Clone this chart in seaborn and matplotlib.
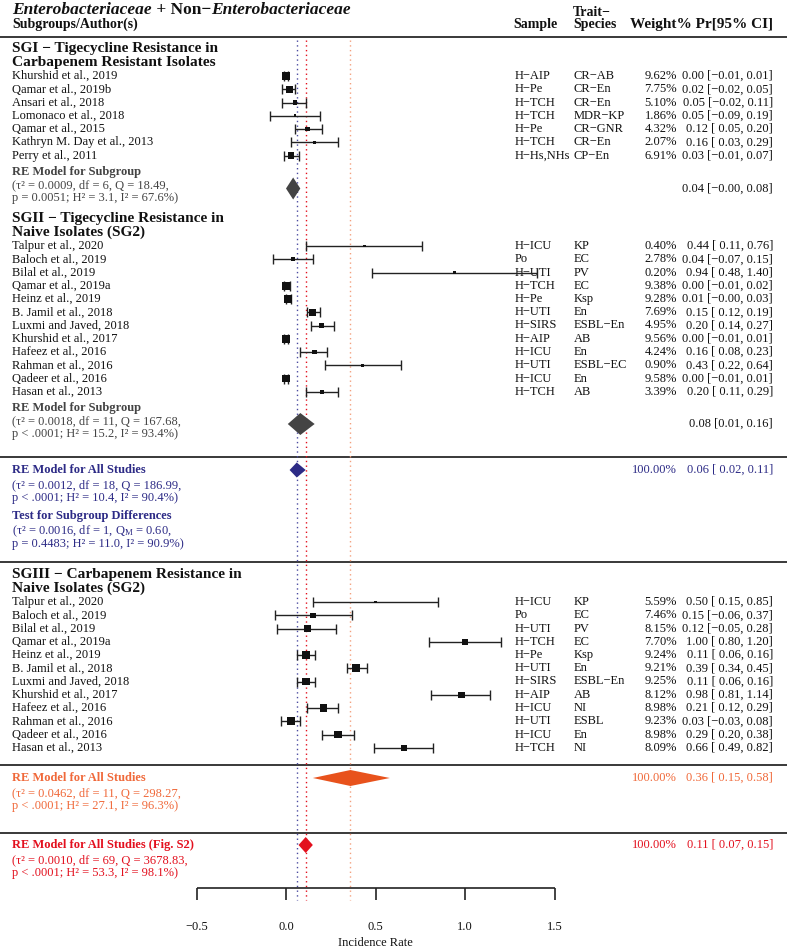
import numpy as np
import pandas as pd
import matplotlib
matplotlib.use('Agg')
import matplotlib.pyplot as plt
import seaborn as sns

# ---- data ----
sg1_authors = ["Khurshid et al., 2019", "Qamar et al., 2019b", "Ansari et al., 2018",
               "Lomonaco et al., 2018", "Qamar et al., 2015", "Kathryn M. Day et al., 2013",
               "Perry et al., 2011"]
sg1_sample = ["H−AIP", "H−Pe", "H−TCH", "H−TCH", "H−Pe", "H−TCH", "H−Hs,NHs"]
sg1_trait = ["CR−AB", "CR−En", "CR−En", "MDR−KP", "CR−GNR", "CR−En", "CP−En"]
sg1_weight = [9.62, 7.75, 5.10, 1.86, 4.32, 2.07, 6.91]
sg1_est = [0.00, 0.02, 0.05, 0.05, 0.12, 0.16, 0.03]
sg1_lo = [-0.01, -0.02, -0.02, -0.09, 0.05, 0.03, -0.01]
sg1_hi = [0.01, 0.05, 0.11, 0.19, 0.20, 0.29, 0.07]

sg2_authors = ["Talpur et al., 2020", "Baloch et al., 2019", "Bilal et al., 2019",
               "Qamar et al., 2019a", "Heinz et al., 2019", "B. Jamil et al., 2018",
               "Luxmi and Javed, 2018", "Khurshid et al., 2017", "Hafeez et al., 2016",
               "Rahman et al., 2016", "Qadeer et al., 2016", "Hasan et al., 2013"]
sg2_sample = ["H−ICU", "Po", "H−UTI", "H−TCH", "H−Pe", "H−UTI", "H−SIRS", "H−AIP",
              "H−ICU", "H−UTI", "H−ICU", "H−TCH"]
sg2_trait = ["KP", "EC", "PV", "EC", "Ksp", "En", "ESBL−En", "AB", "En", "ESBL−EC", "En", "AB"]
sg2_weight = [0.40, 2.78, 0.20, 9.38, 9.28, 7.69, 4.95, 9.56, 4.24, 0.90, 9.58, 3.39]
sg2_est = [0.44, 0.04, 0.94, 0.00, 0.01, 0.15, 0.20, 0.00, 0.16, 0.43, 0.00, 0.20]
sg2_lo = [0.11, -0.07, 0.48, -0.01, -0.00, 0.12, 0.14, -0.01, 0.08, 0.22, -0.01, 0.11]
sg2_hi = [0.76, 0.15, 1.40, 0.02, 0.03, 0.19, 0.27, 0.01, 0.23, 0.64, 0.01, 0.29]

sg3_authors = sg2_authors
sg3_sample = sg2_sample
sg3_trait = ["KP", "EC", "PV", "EC", "Ksp", "En", "ESBL−En", "AB", "NI", "ESBL", "En", "NI"]
sg3_weight = [5.59, 7.46, 8.15, 7.70, 9.24, 9.21, 9.25, 8.12, 8.98, 9.23, 8.98, 8.09]
sg3_est = [0.50, 0.15, 0.12, 1.00, 0.11, 0.39, 0.11, 0.98, 0.21, 0.03, 0.29, 0.66]
sg3_lo = [0.15, -0.06, -0.05, 0.80, 0.06, 0.34, 0.06, 0.81, 0.12, -0.03, 0.20, 0.49]
sg3_hi = [0.85, 0.37, 0.28, 1.20, 0.16, 0.45, 0.16, 1.14, 0.29, 0.08, 0.38, 0.82]

sg_titles = [["SGI − Tigecycline Resistance in", "Carbapenem Resistant Isolates"],
             ["SGII − Tigecycline Resistance in", "Naive Isolates (SG2)"],
             ["SGIII − Carbapenem Resistance in", "Naive Isolates (SG2)"]]

# pooled estimates: est, lo, hi
sum_sg1 = (0.04, -0.00, 0.08)
sum_sg2 = (0.08, 0.01, 0.16)
sum_all_tig = (0.06, 0.02, 0.11)
sum_all_carb = (0.36, 0.15, 0.58)
sum_all_s2 = (0.11, 0.07, 0.15)

stats_sg1 = ["(τ² = 0.0009, df = 6, Q = 18.49,", "p = 0.0051; H² = 3.1, I² = 67.6%)"]
stats_sg2 = ["(τ² = 0.0018, df = 11, Q = 167.68,", "p < .0001; H² = 15.2, I² = 93.4%)"]
stats_all_tig = ["(τ² = 0.0012, df = 18, Q = 186.99,", "p < .0001; H² = 10.4, I² = 90.4%)"]
stats_test = ["(τ² = 0.0016, df = 1, Q$_{\\mathrm{M}}$ = 0.60,", "p = 0.4483; H² = 11.0, I² = 90.9%)"]
stats_all_carb = ["(τ² = 0.0462, df = 11, Q = 298.27,", "p < .0001; H² = 27.1, I² = 96.3%)"]
stats_all_s2 = ["(τ² = 0.0010, df = 69, Q = 3678.83,", "p < .0001; H² = 53.3, I² = 98.1%)"]

x_ticks = [-0.5, 0.0, 0.5, 1.0, 1.5]
ref_lines = [0.06, 0.11, 0.36]

# ---- style ----
sns.set_theme(style="white")
plt.rcParams['font.family'] = ['Liberation Serif', 'DejaVu Serif']
plt.rcParams['mathtext.fontset'] = 'custom'
plt.rcParams['mathtext.rm'] = 'Liberation Serif'
plt.rcParams['mathtext.it'] = 'Liberation Serif:italic'
plt.rcParams['mathtext.bf'] = 'Liberation Serif:bold'

BLACK = "#111111"
GREY = "#444444"
NAVY = "#2D2B86"
ORANGE_T = "#F0693A"
ORANGE_D = "#E8521C"
RED = "#E3101E"

W, H = 787, 948
fig = plt.figure(figsize=(W / 100, H / 100), dpi=100)
ax = fig.add_axes([0, 0, 1, 1])


def px2x(p):
    # horizontal pixel -> incidence-rate scale (0 at px 286, 179 px per unit)
    return (p - 286) / 179.0


ax.set_xlim(px2x(0), px2x(W))
ax.set_ylim(H, 0)
ax.axis('off')

X_LEFT = px2x(12)
X_SAMPLE = px2x(515)
X_TRAIT = px2x(574)
X_WEIGHT = px2x(677)
X_CI = px2x(773)
FS = 9


def fmt(v, pad=True, nd=2):
    s = f"{v:.{nd}f}"
    if s.startswith("-"):
        return "−" + s[1:]
    return (" " + s) if pad else s


def ci_text(est, lo, hi, pad=True):
    return f"{fmt(est, False)} [{fmt(lo, pad)}, {fmt(hi, False)}]"


# ---- header ----
t1 = ax.text(X_LEFT, 10, "Enterobacteriaceae", fontsize=12.5, fontweight='bold',
             fontstyle='italic', va='center', ha='left', color=BLACK)
t2 = ax.annotate(" + Non−", xy=(1, 0), xycoords=t1, va='bottom', ha='left',
                 fontsize=12.5, fontweight='bold', color=BLACK)
ax.annotate("Enterobacteriaceae", xy=(1, 0), xycoords=t2, va='bottom', ha='left',
            fontsize=12.5, fontweight='bold', fontstyle='italic', color=BLACK)
ax.text(X_LEFT, 24.5, "Subgroups/Author(s)", fontsize=10, fontweight='bold', va='center', color=BLACK)
ax.text(px2x(513), 24.5, "Sample", fontsize=10, fontweight='bold', va='center', color=BLACK)
ax.text(px2x(573), 12.5, "Trait−", fontsize=10, fontweight='bold', va='center', color=BLACK)
ax.text(px2x(573), 24.5, "Species", fontsize=10, fontweight='bold', va='center', color=BLACK)
ax.text(X_CI, 24.5, "Weight% Pr[95% CI]", fontsize=11, fontweight='bold', va='center',
        ha='right', color=BLACK)

ax.hlines([37, 457, 562, 765, 833], px2x(0), px2x(W), colors="#2a2a2a", lw=1.3)

# ---- studies ----
groups = [
    (sg1_authors, sg1_sample, sg1_trait, sg1_weight, sg1_est, sg1_lo, sg1_hi, 48.5),
    (sg2_authors, sg2_sample, sg2_trait, sg2_weight, sg2_est, sg2_lo, sg2_hi, 218.5),
    (sg3_authors, sg3_sample, sg3_trait, sg3_weight, sg3_est, sg3_lo, sg3_hi, 574.5),
]
STEP = 13.25
frames = []
for gi, (au, sa, tr, w, est, lo, hi, top) in enumerate(groups):
    ax.text(X_LEFT, top, sg_titles[gi][0], fontsize=11.1, fontweight='bold', va='center', color=BLACK)
    ax.text(X_LEFT, top + 14, sg_titles[gi][1], fontsize=11.1, fontweight='bold', va='center', color=BLACK)
    d = pd.DataFrame({"author": au, "sample": sa, "trait": tr, "weight": w,
                      "est": est, "lo": lo, "hi": hi})
    d["y"] = top + 27.5 + np.arange(len(d)) * STEP
    wmin, wmax = d["weight"].min(), d["weight"].max()
    d["psize"] = 0.5 + (d["weight"] - wmin) / (wmax - wmin)
    d["group"] = gi
    frames.append(d)
df = pd.concat(frames, ignore_index=True)

for _, r in df.iterrows():
    ax.text(X_LEFT, r["y"], r["author"], fontsize=FS, va='center', color=BLACK)
    ax.text(X_SAMPLE, r["y"], r["sample"], fontsize=FS, va='center', color=BLACK)
    ax.text(X_TRAIT, r["y"], r["trait"], fontsize=FS, va='center', color=BLACK)
    ax.text(X_WEIGHT, r["y"], f"{r['weight']:.2f}%", fontsize=FS, va='center', ha='right', color=BLACK)
    ax.text(X_CI, r["y"], ci_text(r["est"], r["lo"], r["hi"]), fontsize=FS, va='center',
            ha='right', color=BLACK)

ax.errorbar(df["est"], df["y"], xerr=[df["est"] - df["lo"], df["hi"] - df["est"]],
            fmt='none', ecolor="#222222", elinewidth=1.0, capsize=3.3, capthick=1.0, zorder=3)
df["area"] = (3.8 * df["psize"]) ** 2
sns.scatterplot(data=df, x="est", y="y", s=df["area"], marker='s', color=BLACK,
                linewidth=0, legend=False, ax=ax, zorder=4)


# ---- pooled estimates ----
def diamond(est, lo, hi, y, h, color):
    ax.fill([lo, est, hi, est], [y, y - h, y, y + h], color=color, lw=0, zorder=5)


summaries = [
    ("RE Model for Subgroup", stats_sg1, sum_sg1, 171.5, 188.5, 11, GREY, BLACK, GREY, None, False),
    ("RE Model for Subgroup", stats_sg2, sum_sg2, 407.5, 424, 11, GREY, BLACK, GREY, None, False),
    ("RE Model for All Studies", stats_all_tig, sum_all_tig, 470, 470, 7.5, NAVY, NAVY, NAVY, "100.00%", True),
    ("RE Model for All Studies", stats_all_carb, sum_all_carb, 778, 778, 8, ORANGE_T, ORANGE_T, ORANGE_D, "100.00%", True),
    ("RE Model for All Studies (Fig. S2)", stats_all_s2, sum_all_s2, 845, 845, 8, RED, RED, RED, "100.00%", True),
]
for label, st, (e, l, h), ly, dy, hh, tcol, rcol, dcol, wtxt, pad in summaries:
    ax.text(X_LEFT, ly, label, fontsize=FS, fontweight='bold', va='center', color=tcol)
    gap = 13.5 if ly < 450 else 15
    ax.text(X_LEFT, ly + gap, st[0], fontsize=FS, va='center', color=tcol)
    ax.text(X_LEFT, ly + gap + 13.3, st[1], fontsize=FS, va='center', color=tcol)
    diamond(e, l, h, dy, hh, dcol)
    if wtxt:
        ax.text(X_WEIGHT, dy, wtxt, fontsize=FS, va='center', ha='right', color=rcol)
    ax.text(X_CI, dy, ci_text(e, l, h, pad), fontsize=FS, va='center', ha='right', color=rcol)

ax.text(X_LEFT, 516, "Test for Subgroup Differences", fontsize=FS, fontweight='bold',
        va='center', color=NAVY)
ax.text(X_LEFT, 531, stats_test[0], fontsize=FS, va='center', color=NAVY)
ax.text(X_LEFT, 544.5, stats_test[1], fontsize=FS, va='center', color=NAVY)

# ---- reference lines ----
ax.vlines(ref_lines, 40, 900, colors=["#4B4BA0", "#E3101E", "#F3A07E"], lw=1.0,
          linestyles=[(0, (1, 2.4))] * 3, zorder=2)

# ---- x axis ----
AX_Y = 888
ax.hlines(AX_Y, x_ticks[0], x_ticks[-1], colors="#222222", lw=1.2)
ax.vlines(x_ticks, AX_Y, 900, colors="#222222", lw=1.2)
for t in x_ticks:
    ax.text(t, 927, fmt(t, False, 1), fontsize=FS, ha='center', va='center', color=BLACK)
ax.text(0.5, 943, "Incidence Rate", fontsize=FS, ha='center', va='center', color=BLACK)

fig.savefig("out.png", dpi=100)
